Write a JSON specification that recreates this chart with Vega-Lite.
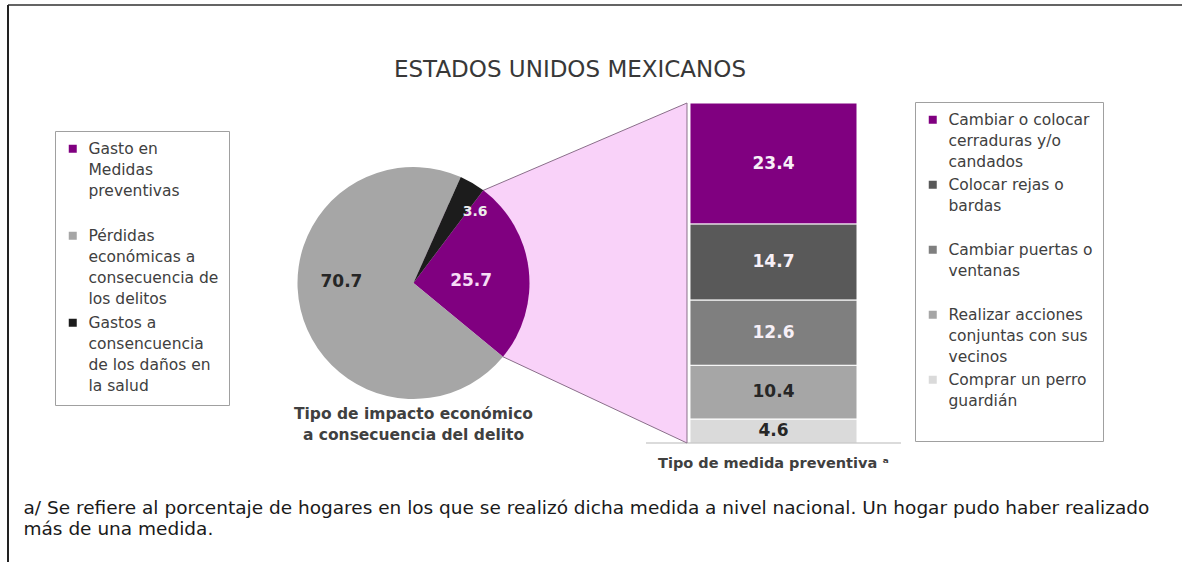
{
  "$schema": "https://vega.github.io/schema/vega-lite/v6.json",
  "width": 527,
  "height": 320,
  "autosize": {"type": "none"},
  "padding": {"left": 330, "top": 123, "right": 325, "bottom": 119},
  "background": "#ffffff",
  "title": {
    "text": "ESTADOS UNIDOS MEXICANOS",
    "anchor": "middle",
    "frame": "group",
    "dx": -23.5,
    "offset": -96,
    "baseline": "alphabetic",
    "font": "DejaVu Sans",
    "fontSize": 23,
    "fontWeight": "normal",
    "color": "#383838"
  },
  "datasets": {
    "impacto": [
      {"grupo": "Tipo de impacto económico a consecuencia del delito", "tipo": "Gasto en Medidas preventivas", "valor": 25.7, "orden": 2},
      {"grupo": "Tipo de impacto económico a consecuencia del delito", "tipo": "Pérdidas económicas a consecuencia de los delitos", "valor": 70.7, "orden": 3},
      {"grupo": "Tipo de impacto económico a consecuencia del delito", "tipo": "Gastos a consencuencia de los daños en la salud", "valor": 3.6, "orden": 1}
    ],
    "medidas": [
      {"grupo": "Tipo de medida preventiva ᵃ", "medida": "Cambiar o colocar cerraduras y/o candados", "valor": 23.4, "orden": 1},
      {"grupo": "Tipo de medida preventiva ᵃ", "medida": "Colocar rejas o bardas", "valor": 14.7, "orden": 2},
      {"grupo": "Tipo de medida preventiva ᵃ", "medida": "Cambiar puertas o ventanas", "valor": 12.6, "orden": 3},
      {"grupo": "Tipo de medida preventiva ᵃ", "medida": "Realizar acciones conjuntas con sus vecinos", "valor": 10.4, "orden": 4},
      {"grupo": "Tipo de medida preventiva ᵃ", "medida": "Comprar un perro guardián", "valor": 4.6, "orden": 5}
    ],
    "conector": [
      {"grupo": "Tipo de impacto económico a consecuencia del delito", "arriba": 35.865, "abajo": 32.595},
      {"grupo": "Tipo de medida preventiva ᵃ", "arriba": 65.7, "abajo": 0}
    ]
  },
  "layer": [
    {
      "data": {"name": "medidas"},
      "mark": {"type": "bar", "stroke": "#ffffff", "strokeWidth": 1},
      "encoding": {
        "x": {
          "field": "grupo", "type": "nominal",
          "scale": {"domain": ["Tipo de impacto económico a consecuencia del delito", "Tipo de medida preventiva ᵃ"], "paddingInner": 0.53611, "paddingOuter": 0},
          "axis": {
            "domain": false, "ticks": false, "tickSize": 0, "grid": false,
            "labelAngle": 0, "labelPadding": 13, "labelFont": "DejaVu Sans", "labelFontSize": 14.5, "labelFontWeight": "bold", "labelColor": "#404040", "labelLimit": 400,
            "labelExpr": "datum.label == 'Tipo de medida preventiva ᵃ' ? datum.label : ''",
            "title": ["a/ Se refiere al porcentaje de hogares en los que se realizó dicha medida a nivel nacional. Un hogar pudo haber realizado", "más de una medida."],
            "titleX": -307, "titleY": 55, "titleAlign": "left", "titleBaseline": "top", "titleAngle": 0,
            "titleFont": "DejaVu Sans", "titleFontSize": 18.5, "titleFontWeight": "normal", "titleColor": "#1a1a1a", "titleLineHeight": 21
          }
        },
        "y": {"field": "valor", "type": "quantitative", "stack": "zero", "scale": {"domain": [0, 61.8353], "nice": false}, "axis": null},
        "fill": {
          "field": "medida", "type": "nominal",
          "scale": {
            "domain": ["Cambiar o colocar cerraduras y/o candados", "Colocar rejas o bardas", "Cambiar puertas o ventanas", "Realizar acciones conjuntas con sus vecinos", "Comprar un perro guardián"],
            "range": ["#800080", "#595959", "#7f7f7f", "#a6a6a6", "#dadada"]
          },
          "legend": {
            "orient": "none", "legendX": 585, "legendY": -21,
            "title": null, "symbolType": "square", "symbolSize": 64, "symbolStrokeWidth": 0,
            "labelFont": "DejaVu Sans", "labelFontSize": 15.5, "labelColor": "#404040", "labelLimit": 400, "labelOffset": 8,
            "strokeColor": "#a0a0a0", "fillColor": "#ffffff", "padding": 10, "rowPadding": 6,
            "labelExpr": "datum.label == 'Cambiar o colocar cerraduras y/o candados' ? ['Cambiar o colocar', 'cerraduras y/o', 'candados'] : datum.label == 'Colocar rejas o bardas' ? ['Colocar rejas o', 'bardas', ''] : datum.label == 'Cambiar puertas o ventanas' ? ['Cambiar puertas o', 'ventanas', ''] : datum.label == 'Realizar acciones conjuntas con sus vecinos' ? ['Realizar acciones', 'conjuntas con sus', 'vecinos'] : ['Comprar un perro', 'guardián', '']"
          }
        },
        "order": {"field": "orden", "type": "quantitative", "sort": "descending"}
      }
    },
    {
      "data": {"name": "medidas"},
      "mark": {"type": "text", "font": "DejaVu Sans", "fontSize": 17, "fontWeight": "bold"},
      "encoding": {
        "x": {"field": "grupo", "type": "nominal"},
        "y": {"field": "valor", "type": "quantitative", "stack": "zero", "bandPosition": 0.5},
        "detail": {"field": "medida", "type": "nominal"},
        "order": {"field": "orden", "type": "quantitative", "sort": "descending"},
        "text": {"field": "valor", "type": "quantitative", "format": ".1f"},
        "color": {"condition": {"test": "datum.valor > 11", "value": "#f7f0f7"}, "value": "#262626"}
      }
    },
    {
      "data": {"values": [{}]},
      "mark": {"type": "tick", "orient": "horizontal", "color": "#9a9a9a", "size": 255, "thickness": 1},
      "encoding": {
        "x": {"datum": "Tipo de medida preventiva ᵃ", "type": "nominal"},
        "y": {"datum": 0, "type": "quantitative"}
      }
    },
    {
      "data": {"name": "conector"},
      "mark": {"type": "area", "orient": "vertical", "color": "#f9d2f9", "stroke": "#8a6f8a", "strokeWidth": 1},
      "encoding": {
        "x": {"field": "grupo", "type": "nominal", "bandPosition": -0.018},
        "y": {"field": "arriba", "type": "quantitative", "stack": null},
        "y2": {"field": "abajo"}
      }
    },
    {
      "data": {"name": "impacto"},
      "mark": {"type": "arc", "outerRadius": 116},
      "encoding": {
        "x": {"field": "grupo", "type": "nominal"},
        "theta": {"field": "valor", "type": "quantitative", "stack": "zero", "scale": {"range": [0.41958, 6.70277]}},
        "order": {"field": "orden", "type": "quantitative"},
        "color": {
          "field": "tipo", "type": "nominal",
          "scale": {
            "domain": ["Gasto en Medidas preventivas", "Pérdidas económicas a consecuencia de los delitos", "Gastos a consencuencia de los daños en la salud"],
            "range": ["#800080", "#a6a6a6", "#1c1c1c"]
          },
          "legend": {
            "orient": "none", "legendX": -275, "legendY": 8,
            "title": null, "symbolType": "square", "symbolSize": 64, "symbolStrokeWidth": 0,
            "labelFont": "DejaVu Sans", "labelFontSize": 15.5, "labelColor": "#404040", "labelLimit": 400, "labelOffset": 8,
            "strokeColor": "#a0a0a0", "fillColor": "#ffffff", "padding": 10, "rowPadding": 7,
            "labelExpr": "datum.label == 'Gasto en Medidas preventivas' ? ['Gasto en', 'Medidas', 'preventivas', ''] : datum.label == 'Pérdidas económicas a consecuencia de los delitos' ? ['Pérdidas', 'económicas a', 'consecuencia de', 'los delitos'] : ['Gastos a', 'consencuencia', 'de los daños en', 'la salud']"
          }
        }
      }
    },
    {
      "data": {"name": "impacto"},
      "mark": {"type": "text", "radius": 58, "dy": 5, "font": "DejaVu Sans", "fontSize": 17, "fontWeight": "bold", "color": "#f6dcf6"},
      "encoding": {
        "x": {"field": "grupo", "type": "nominal"},
        "theta": {"field": "valor", "type": "quantitative", "stack": "zero", "scale": {"range": [0.41958, 6.70277]}},
        "order": {"field": "orden", "type": "quantitative"},
        "detail": {"field": "tipo", "type": "nominal"},
        "text": {"condition": {"test": "datum.orden == 2", "field": "valor", "type": "quantitative", "format": ".1f"}, "value": ""}
      }
    },
    {
      "data": {"name": "impacto"},
      "mark": {"type": "text", "radius": 74, "dy": -18, "font": "DejaVu Sans", "fontSize": 17, "fontWeight": "bold", "color": "#262626"},
      "encoding": {
        "x": {"field": "grupo", "type": "nominal"},
        "theta": {"field": "valor", "type": "quantitative", "stack": "zero", "scale": {"range": [0.41958, 6.70277]}},
        "order": {"field": "orden", "type": "quantitative"},
        "detail": {"field": "tipo", "type": "nominal"},
        "text": {"condition": {"test": "datum.orden == 3", "field": "valor", "type": "quantitative", "format": ".1f"}, "value": ""}
      }
    },
    {
      "data": {"name": "impacto"},
      "mark": {"type": "text", "radius": 82, "dx": 20, "font": "DejaVu Sans", "fontSize": 14, "fontWeight": "bold", "color": "#ececec"},
      "encoding": {
        "x": {"field": "grupo", "type": "nominal"},
        "theta": {"field": "valor", "type": "quantitative", "stack": "zero", "scale": {"range": [0.41958, 6.70277]}},
        "order": {"field": "orden", "type": "quantitative"},
        "detail": {"field": "tipo", "type": "nominal"},
        "text": {"condition": {"test": "datum.orden == 1", "field": "valor", "type": "quantitative", "format": ".1f"}, "value": ""}
      }
    },
    {
      "data": {"values": [{}]},
      "mark": {"type": "text", "text": ["Tipo de impacto económico", "a consecuencia del delito"], "align": "center", "baseline": "top", "lineHeight": 21, "font": "DejaVu Sans", "fontSize": 15.5, "fontWeight": "bold", "color": "#404040"},
      "encoding": {
        "x": {"datum": "Tipo de impacto económico a consecuencia del delito", "type": "nominal"},
        "y": {"datum": 6.956, "type": "quantitative"}
      }
    },
    {
      "data": {"values": [{}]},
      "mark": {"type": "rule", "color": "#222222", "strokeWidth": 2},
      "encoding": {
        "x": {"datum": "Tipo de impacto económico a consecuencia del delito", "type": "nominal", "bandPosition": -1.92814},
        "y": {"datum": 84.637, "type": "quantitative"},
        "y2": {"datum": -22.995}
      }
    },
    {
      "data": {"values": [{}]},
      "mark": {"type": "tick", "orient": "horizontal", "color": "#222222", "size": 1531, "thickness": 2},
      "encoding": {
        "x": {"datum": "Tipo de medida preventiva ᵃ", "type": "nominal"},
        "y": {"datum": 84.637, "type": "quantitative"}
      }
    }
  ],
  "config": {
    "view": {"stroke": null},
    "style": {"guide-label": {"lineHeight": 21}}
  }
}
